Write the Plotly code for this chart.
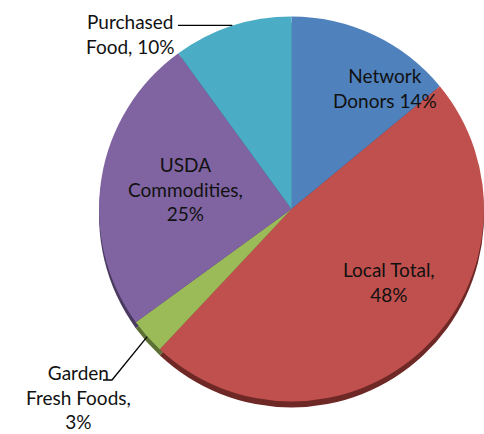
import math
import plotly.graph_objects as go

# ---- data ----
categories = ["Network Donors", "Local Total", "Garden Fresh Foods", "USDA Commodities", "Purchased Food"]
values = [14, 48, 3, 25, 10]
name_text = ["Network<br>Donors", "Local Total,", "Garden<br>Fresh Foods,", "USDA<br>Commodities,", "Purchased<br>Food,"]
value_sep = [" ", "<br>", "<br>", "<br>", " "]

# ---- style / layout ----
colors = ["#4F81BD", "#C0504D", "#9BBB59", "#8064A2", "#4BACC6"]
side_colors = ["#2E4C72", "#6E2826", "#5C7033", "#4A3A60", "#2B6878"]
W, H = 484, 434
CX, CY, R = 292, 209, 193      # pie centre / radius in px
DROP = 6                        # 3-D side depth in px
label_pos = [(385, 88), (389, 282), (78, 397), (185, 189), (130, 34)]
FONT = "Lato"
FSIZE = 19


def px(x):
    return x / W


def py(y):
    return 1 - y / H


dom_x = [px(CX - R), min(1.0, px(CX + R))]
dom_y = [py(CY + R), py(CY - R)]
dom_y_side = [py(CY + R + DROP), py(CY - R + DROP)]

fig = go.Figure()
fig.add_trace(go.Pie(
    labels=categories, values=values, sort=False, direction="clockwise", rotation=0,
    textinfo="none", hoverinfo="skip", showlegend=False,
    marker=dict(colors=side_colors, line=dict(width=0)),
    domain=dict(x=dom_x, y=dom_y_side),
))
fig.add_trace(go.Pie(
    labels=categories, values=values, sort=False, direction="clockwise", rotation=0,
    textinfo="none", hoverinfo="label+percent", showlegend=False,
    marker=dict(colors=colors, line=dict(width=0)),
    domain=dict(x=dom_x, y=dom_y),
))

# labels
annotations = []
for i, cat in enumerate(categories):
    txt = name_text[i] + value_sep[i] + f"{values[i]}%"
    x, y = label_pos[i]
    annotations.append(dict(
        x=px(x), y=py(y), xref="paper", yref="paper", text=txt, showarrow=False,
        xanchor="center", yanchor="middle", align="center",
        font=dict(family=FONT, size=FSIZE, color="#111111"),
    ))

# leader lines to slice mid-angles, derived from the data
total = sum(values)
cum = 0
mid_pts = []
for v in values:
    mid = (cum + v / 2) / total * 2 * math.pi
    mid_pts.append((CX + R * math.sin(mid), CY - R * math.cos(mid)))
    cum += v

shapes = []
# Purchased Food
ex, ey = mid_pts[4]
shapes.append(dict(type="line", xref="paper", yref="paper",
                   x0=px(178), y0=py(ey), x1=px(ex), y1=py(ey),
                   line=dict(color="#000000", width=1.3)))
# Garden Fresh Foods
gx, gy = mid_pts[2]
shapes.append(dict(type="path", xref="paper", yref="paper",
                   path=f"M {px(gx)} {py(gy)} L {px(112)} {py(380)} L {px(103)} {py(380)}",
                   line=dict(color="#000000", width=1.3)))

fig.update_layout(
    width=W, height=H, margin=dict(l=0, r=0, t=0, b=0),
    paper_bgcolor="white", plot_bgcolor="white",
    annotations=annotations, shapes=shapes,
)

fig.write_html("out.html")
